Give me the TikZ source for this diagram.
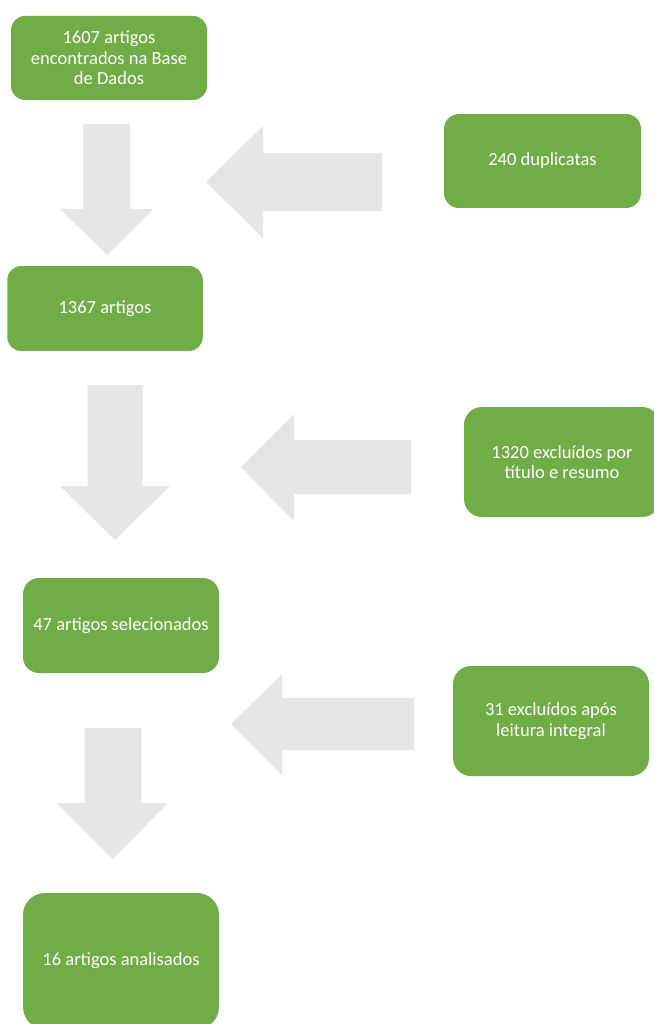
\documentclass[tikz,border=0pt]{standalone}
\usepackage{fontspec}
\setmainfont{Carlito}
\definecolor{boxgreen}{HTML}{70AD47}
\definecolor{arrowgray}{HTML}{E7E6E6}
\tikzset{
  greenbox/.style={rectangle, fill=boxgreen, draw=none, text=white, align=center,
    inner sep=4pt, font=\fontsize{18.5}{20.5}\selectfont},
  blockarrow/.style={fill=arrowgray, draw=none}
}
\begin{document}
\begin{tikzpicture}[x=1pt,y=-1pt]
\useasboundingbox (0,0) rectangle (653,1024);
% boxes
\node[greenbox, minimum width=196pt, minimum height=84pt, rounded corners=14pt] (b1) at (109,58) {1607 artigos\\encontrados na Base\\de Dados};
\node[greenbox, minimum width=197pt, minimum height=94pt, rounded corners=15pt] (b2) at (542.5,161) {240 duplicatas};
\node[greenbox, minimum width=195.5pt, minimum height=85pt, rounded corners=14pt] (b3) at (105,308.5) {1367 artigos};
\node[greenbox, minimum width=196pt, minimum height=110pt, rounded corners=18pt] (b4) at (562,462) {1320 excluídos por\\título e resumo};
\node[greenbox, minimum width=196pt, minimum height=95pt, rounded corners=16pt] (b5) at (121,625.5) {47 artigos selecionados};
\node[greenbox, minimum width=196pt, minimum height=110pt, rounded corners=18pt] (b6) at (551,721) {31 excluídos após\\leitura integral};
\node[greenbox, minimum width=196pt, minimum height=136pt, rounded corners=22pt] (b7) at (121,961) {16 artigos analisados};
% down arrows
\fill[blockarrow] (83,124) -- (130,124) -- (130,209) -- (153,209) -- (107,255) -- (60,209) -- (83,209) -- cycle;
\fill[blockarrow] (87.5,385) -- (142.5,385) -- (142.5,486) -- (170,486) -- (115,540) -- (60,486) -- (87.5,486) -- cycle;
\fill[blockarrow] (85,728) -- (141,728) -- (141,803) -- (168,803) -- (112.5,859) -- (57,803) -- (85,803) -- cycle;
% left arrows
\fill[blockarrow] (382,153) -- (382,211) -- (263,211) -- (263,238) -- (206,182) -- (263,126) -- (263,153) -- cycle;
\fill[blockarrow] (411,440) -- (411,494) -- (294,494) -- (294,521) -- (241,467) -- (294,414) -- (294,440) -- cycle;
\fill[blockarrow] (414,698) -- (414,750) -- (282,750) -- (282,775) -- (231,724) -- (282,674) -- (282,698) -- cycle;
\end{tikzpicture}
\end{document}
